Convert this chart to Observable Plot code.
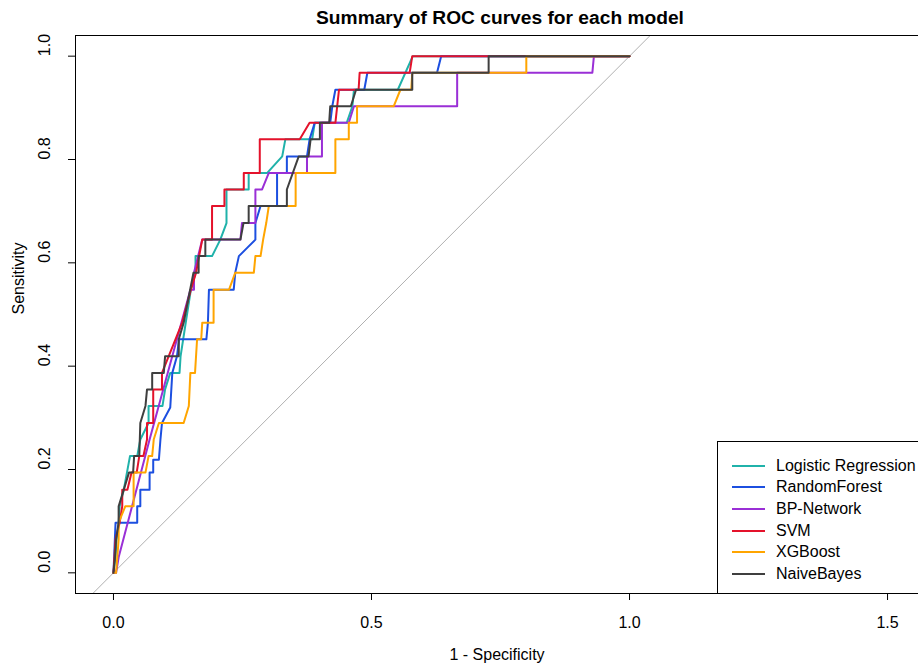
<!DOCTYPE html>
<html>
<head>
<meta charset="utf-8">
<script src="https://cdn.jsdelivr.net/npm/d3@7"></script>
<script src="https://cdn.jsdelivr.net/npm/@observablehq/plot@0.6"></script>
<style>
  body { margin: 0; background: #fff; font-family: "Liberation Sans", Arial, sans-serif; }
  #wrap { position: relative; width: 918px; height: 663px; overflow: hidden; }
  #legend { position: absolute; left: 717px; top: 441px; width: 260px; height: 151px;
            border: 1px solid #000; background: #fff; }
  .row { position: absolute; left: 0; height: 20px; display: flex; align-items: center; }
  .sw { position: absolute; left: 14px; width: 33px; height: 2px; }
  .lbl { position: absolute; left: 58px; font-size: 16px; color: #000; white-space: nowrap; line-height: 20px; }
</style>
</head>
<body>
<div id="wrap"></div>
<script>
// ---- data ----
const titleText = "Summary of ROC curves for each model";
const xLabel = "1 - Specificity";
const yLabel = "Sensitivity";
const xTicks = [0, 0.5, 1, 1.5];
const yTicks = [0, 0.2, 0.4, 0.6, 0.8, 1.0];
const xDomain = [-0.0736, 1.56];
const yDomain = [-0.04, 1.04];

const models = ["Logistic Regression", "RandomForest", "BP-Network", "SVM", "XGBoost", "NaiveBayes"];
const colors = ["#20B2AA", "#1C4FE0", "#9A2FD6", "#E4122B", "#FFA500", "#3F3F3F"];

const logisticRegression = [
  [0,0],[0.004,0.032],[0.006,0.065],[0.01,0.097],[0.012,0.129],[0.02,0.161],[0.032,0.226],[0.046,0.226],
  [0.052,0.258],[0.068,0.29],[0.068,0.323],[0.095,0.323],[0.1,0.355],[0.11,0.387],[0.128,0.387],[0.13,0.419],
  [0.14,0.484],[0.15,0.548],[0.159,0.581],[0.159,0.613],[0.191,0.613],[0.207,0.645],[0.219,0.677],[0.219,0.742],
  [0.262,0.742],[0.262,0.774],[0.298,0.774],[0.327,0.806],[0.333,0.839],[0.385,0.839],[0.39,0.871],[0.452,0.871],
  [0.463,0.903],[0.466,0.935],[0.551,0.935],[0.58,1],[1,1]
];
const randomForest = [
  [0,0],[0.004,0.097],[0.046,0.097],[0.046,0.129],[0.052,0.129],[0.052,0.161],[0.07,0.161],[0.07,0.194],
  [0.077,0.194],[0.077,0.219],[0.088,0.219],[0.091,0.258],[0.094,0.29],[0.11,0.32],[0.114,0.387],[0.123,0.419],
  [0.127,0.452],[0.18,0.452],[0.183,0.484],[0.185,0.548],[0.233,0.548],[0.236,0.581],[0.243,0.613],[0.26,0.63],
  [0.275,0.645],[0.275,0.677],[0.285,0.71],[0.317,0.71],[0.317,0.774],[0.336,0.774],[0.336,0.806],[0.375,0.806],
  [0.38,0.839],[0.39,0.871],[0.42,0.871],[0.424,0.903],[0.43,0.935],[0.486,0.935],[0.492,0.968],[0.627,0.968],
  [0.635,1],[1,1]
];
const bpNetwork = [
  [0,0],[0.005,0],[0.01,0.03],[0.07,0.258],[0.149,0.548],[0.156,0.548],[0.156,0.581],[0.172,0.645],[0.246,0.645],
  [0.249,0.677],[0.275,0.677],[0.275,0.742],[0.288,0.742],[0.301,0.774],[0.375,0.774],[0.375,0.806],[0.404,0.806],
  [0.404,0.871],[0.456,0.871],[0.466,0.903],[0.666,0.903],[0.666,0.968],[0.928,0.968],[0.931,1],[1,1]
];
const svm = [
  [0,0],[0.004,0.065],[0.012,0.097],[0.017,0.129],[0.017,0.161],[0.027,0.161],[0.035,0.194],[0.045,0.194],
  [0.05,0.226],[0.058,0.226],[0.065,0.258],[0.065,0.29],[0.077,0.29],[0.077,0.355],[0.094,0.355],[0.094,0.387],
  [0.133,0.484],[0.15,0.548],[0.16,0.581],[0.172,0.645],[0.191,0.645],[0.191,0.71],[0.215,0.71],[0.215,0.742],
  [0.2525,0.742],[0.2525,0.774],[0.2835,0.774],[0.2835,0.839],[0.361,0.839],[0.38,0.871],[0.43,0.871],
  [0.437,0.935],[0.475,0.935],[0.477,0.968],[0.574,0.968],[0.579,1],[1,1]
];
const xgboost = [
  [0,0],[0.005,0],[0.01,0.064],[0.01,0.097],[0.023,0.129],[0.039,0.129],[0.039,0.194],[0.062,0.194],[0.068,0.226],
  [0.075,0.226],[0.078,0.258],[0.088,0.29],[0.136,0.29],[0.146,0.323],[0.149,0.387],[0.158,0.387],[0.162,0.452],
  [0.17,0.452],[0.172,0.484],[0.194,0.484],[0.194,0.548],[0.224,0.548],[0.236,0.581],[0.272,0.581],[0.275,0.613],
  [0.285,0.613],[0.29,0.645],[0.296,0.677],[0.301,0.71],[0.353,0.71],[0.353,0.774],[0.43,0.774],[0.43,0.839],
  [0.456,0.839],[0.456,0.871],[0.472,0.871],[0.472,0.903],[0.543,0.903],[0.556,0.935],[0.577,0.935],[0.579,0.968],
  [0.8,0.968],[0.8,1],[1,1]
];
const naiveBayes = [
  [0,0],[0.003,0.032],[0.005,0.064],[0.01,0.097],[0.01,0.129],[0.02,0.161],[0.03,0.194],[0.038,0.194],[0.04,0.226],
  [0.05,0.226],[0.051,0.258],[0.052,0.29],[0.062,0.323],[0.065,0.355],[0.075,0.355],[0.075,0.387],[0.0975,0.387],
  [0.1,0.419],[0.1265,0.419],[0.1265,0.452],[0.136,0.484],[0.155,0.581],[0.165,0.581],[0.165,0.613],[0.178,0.613],
  [0.178,0.645],[0.246,0.645],[0.252,0.677],[0.262,0.677],[0.262,0.71],[0.336,0.71],[0.336,0.742],[0.359,0.806],
  [0.378,0.806],[0.382,0.839],[0.4,0.839],[0.4,0.871],[0.418,0.871],[0.42,0.903],[0.46,0.903],[0.47,0.935],
  [0.579,0.935],[0.579,0.968],[0.727,0.968],[0.727,1],[1,1]
];

const curves = [logisticRegression, randomForest, bpNetwork, svm, xgboost, naiveBayes];
const diagonal = [[yDomain[0], yDomain[0]], [yDomain[1], yDomain[1]]];

const fmt = d3.format(".1f");

const curveMarks = curves.map((pts, i) =>
  Plot.line(pts, {x: d => d[0], y: d => d[1], stroke: colors[i], strokeWidth: 2, curve: "linear"})
);

const chart = Plot.plot({
  width: 918,
  height: 663,
  marginLeft: 75,
  marginTop: 35,
  marginBottom: 70,
  marginRight: 0,
  x: {domain: xDomain},
  y: {domain: yDomain},
  style: {fontFamily: "'Liberation Sans', Arial, sans-serif", fontSize: "16px", background: "#fff", color: "#000"},
  marks: [
    Plot.line(diagonal, {x: d => d[0], y: d => d[1], stroke: "#b0b0b0", strokeWidth: 1}),
    ...curveMarks,
    Plot.ruleX([xDomain[0]], {stroke: "#000", strokeWidth: 1}),
    Plot.ruleY([yDomain[0], yDomain[1]], {stroke: "#000", strokeWidth: 1}),
    Plot.axisX({ticks: xTicks, tickFormat: fmt, tickSize: 7, tickPadding: 16, label: null, stroke: "#000"}),
    Plot.axisY({ticks: yTicks, tickFormat: () => "", tickSize: 7, label: null, stroke: "#000"}),
    Plot.text(yTicks, {frameAnchor: "left", y: d => d, text: fmt, dx: -31, rotate: -90, fill: "#000"}),
    Plot.text([xLabel], {frameAnchor: "bottom", dy: 66, fill: "#000"}),
    Plot.text([yLabel], {frameAnchor: "left", dx: -57, rotate: -90, fill: "#000"}),
    Plot.text([titleText], {frameAnchor: "top", dy: -25, dx: 3, fontWeight: "bold", fontSize: 19.2, fill: "#000"})
  ]
});

const wrap = document.getElementById("wrap");
wrap.appendChild(chart);

// legend
const legend = document.createElement("div");
legend.id = "legend";
models.forEach((m, i) => {
  const row = document.createElement("div");
  row.className = "row";
  row.style.top = (13.5 + 21.7 * i) + "px";
  const sw = document.createElement("div");
  sw.className = "sw";
  sw.style.background = colors[i];
  sw.style.top = "9px";
  const lb = document.createElement("div");
  lb.className = "lbl";
  lb.textContent = m;
  row.appendChild(sw);
  row.appendChild(lb);
  legend.appendChild(row);
});
wrap.appendChild(legend);
</script>
</body>
</html>
